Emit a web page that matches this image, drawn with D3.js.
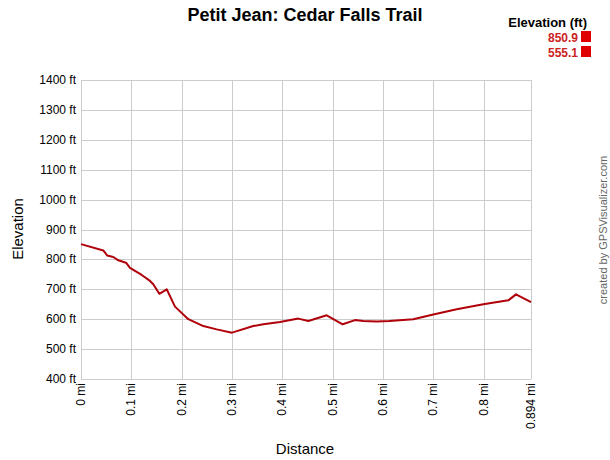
<!DOCTYPE html>
<html><head><meta charset="utf-8">
<script src="https://cdn.jsdelivr.net/npm/d3@7"></script>
<style>body{margin:0;background:#fff}svg{display:block}text{font-family:"Liberation Sans",Arial,sans-serif}</style>
</head><body><svg id="c" width="610" height="460"></svg>
<script>
const distances = [0,0.0443,0.0522,0.0642,0.0741,0.0894,0.0973,0.1206,0.1371,0.1436,0.1556,0.1703,0.1867,0.2132,0.2430,0.2696,0.300,0.3423,0.3622,0.3953,0.4317,0.4516,0.4881,0.5199,0.5443,0.5608,0.5875,0.6125,0.6602,0.6999,0.7464,0.7993,0.8489,0.8642,0.894];
const elevations = [851,830,813,808,797,789,772,748,728,717,685,700,642,600,577,566,555,577,583,591,602,594,613,583,597,594,592,594,600,616,633,650,663,683,657];
const xTicks = [0,0.1,0.2,0.3,0.4,0.5,0.6,0.7,0.8,0.894];
const yTicks = [400,500,600,700,800,900,1000,1100,1200,1300,1400];
const legendTitle = "Elevation (ft)";
const legendValues = ["850.9","555.1"];

const svg = d3.select("#c");
const L=81,R=531,T=80,B=379;
const x = d3.scaleLinear().domain([0,0.894]).range([L,R]);
const y = d3.scaleLinear().domain([400,1400]).range([B,T]);

// grid
const g = svg.append("g");
g.selectAll("line.v").data(xTicks).enter().append("line")
 .attr("x1",d=>Math.round(x(d))+0.5).attr("x2",d=>Math.round(x(d))+0.5)
 .attr("y1",T).attr("y2",B).attr("stroke","#cccccc").attr("stroke-width",1);
g.selectAll("line.h").data(yTicks).enter().append("line")
 .attr("y1",d=>Math.round(y(d))+0.5).attr("y2",d=>Math.round(y(d))+0.5)
 .attr("x1",L).attr("x2",R).attr("stroke","#cccccc").attr("stroke-width",1);

// y labels
svg.selectAll("text.yl").data(yTicks).enter().append("text")
 .attr("x",L-5).attr("y",d=>y(d)+4).attr("text-anchor","end")
 .attr("font-size",12).attr("fill","#000").text(d=>d+" ft");
// x labels
svg.selectAll("text.xl").data(xTicks).enter().append("text")
 .attr("transform",d=>`translate(${x(d)+4},${B+4}) rotate(-90)`)
 .attr("text-anchor","end").attr("font-size",12).attr("fill","#000")
 .text(d=>d+" mi");

// line
const line = d3.line().x((d,i)=>x(distances[i])).y(d=>y(d));
svg.append("path").datum(elevations).attr("d",line)
 .attr("fill","none").attr("stroke","#b0000a").attr("stroke-width",2)
 .attr("stroke-linejoin","round");

// titles
svg.append("text").attr("x",305).attr("y",21).attr("text-anchor","middle")
 .attr("font-size",18).attr("font-weight","bold").text("Petit Jean: Cedar Falls Trail");
svg.append("text").attr("x",305).attr("y",454).attr("text-anchor","middle")
 .attr("font-size",15).text("Distance");
svg.append("text").attr("transform","translate(23,229) rotate(-90)").attr("text-anchor","middle")
 .attr("font-size",15).text("Elevation");
svg.append("text").attr("transform","translate(607,230) rotate(-90)").attr("text-anchor","middle")
 .attr("font-size",11).attr("fill","#666").text("created by GPSVisualizer.com");

// legend
svg.append("text").attr("x",587).attr("y",27).attr("text-anchor","end")
 .attr("font-size",13).attr("font-weight","bold").text(legendTitle);
legendValues.forEach((v,i)=>{
  svg.append("text").attr("x",578).attr("y",42+i*15).attr("text-anchor","end")
   .attr("font-size",12).attr("font-weight","bold").attr("fill","#cc2222").text(v);
  svg.append("rect").attr("x",581).attr("y",31+i*15).attr("width",10).attr("height",11)
   .attr("fill","#e00000");
});
</script></body></html>
